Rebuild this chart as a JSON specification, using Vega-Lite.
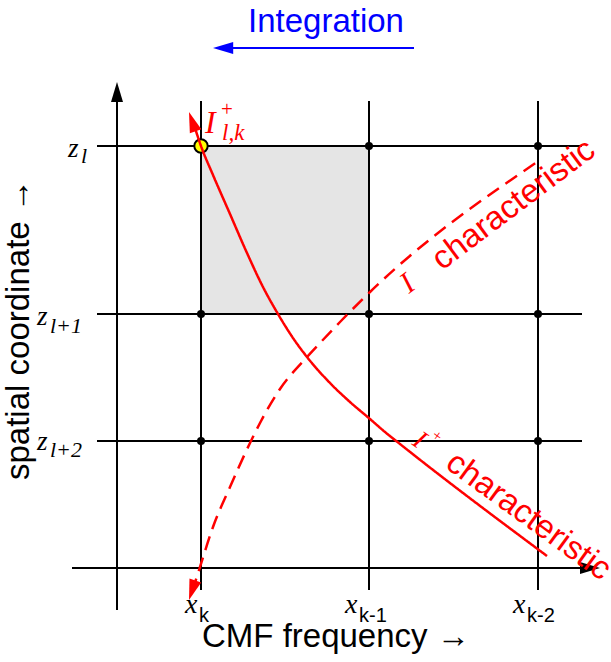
{
 "$schema": "https://vega.github.io/schema/vega-lite/v6.json",
 "width": 611, "height": 662, "autosize": {"type": "none"}, "padding": 0,
 "background": "white",
 "config": {"view": {"stroke": null}},
 "encoding": {
  "x": {"field": "x", "type": "quantitative", "scale": {"domain": [0, 611], "nice": false, "zero": false}, "axis": null},
  "y": {"field": "y", "type": "quantitative", "scale": {"domain": [0, 662], "nice": false, "zero": false, "reverse": true}, "axis": null}
 },
 "layer": [
  {
   "data": {"values": [{"x": 201, "x2": 369, "y": 146, "y2": 314}]},
   "mark": {"type": "rect", "fill": "#e5e5e5"},
   "encoding": {"x2": {"field": "x2"}, "y2": {"field": "y2"}}
  },
  {
   "data": {"values": [
    {"x": 201, "y": 101, "x2": 201, "y2": 590},
    {"x": 369, "y": 101, "x2": 369, "y2": 590},
    {"x": 538, "y": 101, "x2": 538, "y2": 590},
    {"x": 97, "y": 146, "x2": 582, "y2": 146},
    {"x": 97, "y": 314, "x2": 582, "y2": 314},
    {"x": 97, "y": 441, "x2": 582, "y2": 441},
    {"x": 72, "y": 568, "x2": 588, "y2": 568},
    {"x": 117, "y": 610, "x2": 117, "y2": 98}
   ]},
   "mark": {"type": "rule", "color": "black", "strokeWidth": 2},
   "encoding": {"x2": {"field": "x2"}, "y2": {"field": "y2"}}
  },
  {
   "data": {"values": [
    {"x": 369, "y": 146}, {"x": 538, "y": 146},
    {"x": 201, "y": 314}, {"x": 369, "y": 314}, {"x": 538, "y": 314},
    {"x": 201, "y": 441}, {"x": 369, "y": 441}, {"x": 538, "y": 441}
   ]},
   "mark": {"type": "point", "shape": "circle", "filled": true, "color": "black", "opacity": 1, "size": 64}
  },
  {
   "data": {"values": [{"x": 201, "y": 146}]},
   "mark": {"type": "point", "shape": "circle", "filled": true, "fill": "#ffff00", "stroke": "black", "strokeWidth": 2, "opacity": 1, "size": 180}
  },
  {
   "data": {"values": [
    {"curve": "plus", "x": 194, "y": 125}, {"curve": "plus", "x": 201, "y": 146},
    {"curve": "plus", "x": 213, "y": 175}, {"curve": "plus", "x": 230, "y": 214},
    {"curve": "plus", "x": 247, "y": 253}, {"curve": "plus", "x": 263, "y": 287},
    {"curve": "plus", "x": 278, "y": 314}, {"curve": "plus", "x": 293, "y": 338},
    {"curve": "plus", "x": 307, "y": 357}, {"curve": "plus", "x": 330, "y": 383},
    {"curve": "plus", "x": 350, "y": 402}, {"curve": "plus", "x": 370, "y": 419},
    {"curve": "plus", "x": 385, "y": 432}, {"curve": "plus", "x": 400, "y": 444},
    {"curve": "plus", "x": 547, "y": 556},
    {"curve": "minus", "x": 192, "y": 592}, {"curve": "minus", "x": 200, "y": 567},
    {"curve": "minus", "x": 213, "y": 527}, {"curve": "minus", "x": 230, "y": 487},
    {"curve": "minus", "x": 250, "y": 443}, {"curve": "minus", "x": 260, "y": 423},
    {"curve": "minus", "x": 280, "y": 389}, {"curve": "minus", "x": 307, "y": 357},
    {"curve": "minus", "x": 320, "y": 343}, {"curve": "minus", "x": 340, "y": 322},
    {"curve": "minus", "x": 370, "y": 292}, {"curve": "minus", "x": 540, "y": 160}
   ]},
   "mark": {"type": "line", "color": "red", "strokeWidth": 2.5, "interpolate": "monotone"},
   "encoding": {
    "detail": {"field": "curve"},
    "strokeDash": {"field": "curve", "type": "nominal", "scale": {"domain": ["plus", "minus"], "range": [[1, 0], [14, 8]]}, "legend": null}
   }
  },
  {
   "data": {"values": [
    {"kind": "axis", "x": 117, "y": 82, "dir": 0},
    {"kind": "axis", "x": 600, "y": 568, "dir": 90},
    {"kind": "integration", "x": 213, "y": 48, "dir": 270},
    {"kind": "plus", "x": 189, "y": 112, "dir": 341},
    {"kind": "minus", "x": 189, "y": 600, "dir": 198}
   ]},
   "mark": {"type": "point", "shape": "M0,0 L0.6,2 L-0.6,2 Z", "filled": true, "opacity": 1, "strokeWidth": 0},
   "encoding": {
    "angle": {"field": "dir", "type": "quantitative", "scale": null},
    "color": {"field": "kind", "type": "nominal", "scale": {"domain": ["axis", "integration", "plus", "minus"], "range": ["black", "blue", "red", "red"]}, "legend": null},
    "size": {"field": "kind", "type": "ordinal", "scale": {"domain": ["axis", "integration", "plus", "minus"], "range": [400, 420, 200, 200]}, "legend": null}
   }
  },
  {
   "data": {"values": [{"x": 225, "y": 48, "x2": 414, "y2": 48}]},
   "mark": {"type": "rule", "color": "blue", "strokeWidth": 2},
   "encoding": {"x2": {"field": "x2"}, "y2": {"field": "y2"}}
  },
  {
   "data": {"values": [{"x": 326, "y": 32, "label": "Integration"}]},
   "mark": {"type": "text", "font": "Liberation Sans", "fontSize": 33, "color": "blue", "align": "center", "baseline": "alphabetic"},
   "encoding": {"text": {"field": "label"}}
  },
  {
   "data": {"values": [{"x": 202, "y": 647, "label": "CMF frequency →"}]},
   "mark": {"type": "text", "font": "Liberation Sans", "fontSize": 33, "color": "black", "align": "left", "baseline": "alphabetic"},
   "encoding": {"text": {"field": "label"}}
  },
  {
   "data": {"values": [{"x": 29, "y": 480, "label": "spatial coordinate →"}]},
   "mark": {"type": "text", "font": "Liberation Sans", "fontSize": 33, "color": "black", "align": "left", "baseline": "alphabetic", "angle": 270},
   "encoding": {"text": {"field": "label"}}
  },
  {
   "data": {"values": [{"x": 442, "y": 271, "label": "characteristic"}]},
   "mark": {"type": "text", "font": "Liberation Sans", "fontSize": 33, "color": "red", "align": "left", "baseline": "alphabetic", "angle": 323},
   "encoding": {"text": {"field": "label"}}
  },
  {
   "data": {"values": [{"x": 444, "y": 467, "label": "characteristic"}]},
   "mark": {"type": "text", "font": "Liberation Sans", "fontSize": 33, "color": "red", "align": "left", "baseline": "alphabetic", "angle": 36},
   "encoding": {"text": {"field": "label"}}
  },
  {
   "data": {"values": [{"x": 68, "y": 157, "label": "z"}, {"x": 37, "y": 325, "label": "z"}, {"x": 37, "y": 450, "label": "z"}]},
   "mark": {"type": "text", "font": "Liberation Serif", "fontStyle": "italic", "fontSize": 27, "color": "black", "align": "left", "baseline": "alphabetic"},
   "encoding": {"text": {"field": "label"}}
  },
  {
   "data": {"values": [{"x": 81, "y": 163, "label": "l"}, {"x": 50, "y": 333, "label": "l+1"}, {"x": 50, "y": 457, "label": "l+2"}]},
   "mark": {"type": "text", "font": "Liberation Serif", "fontStyle": "italic", "fontSize": 22, "color": "black", "align": "left", "baseline": "alphabetic"},
   "encoding": {"text": {"field": "label"}}
  },
  {
   "data": {"values": [{"x": 185, "y": 613, "label": "x"}, {"x": 345, "y": 613, "label": "x"}, {"x": 513, "y": 613, "label": "x"}]},
   "mark": {"type": "text", "font": "Liberation Serif", "fontStyle": "italic", "fontSize": 28, "color": "black", "align": "left", "baseline": "alphabetic"},
   "encoding": {"text": {"field": "label"}}
  },
  {
   "data": {"values": [{"x": 199, "y": 622, "label": "k"}, {"x": 359, "y": 622, "label": "k-1"}, {"x": 527, "y": 622, "label": "k-2"}]},
   "mark": {"type": "text", "font": "Liberation Sans", "fontSize": 20, "color": "black", "align": "left", "baseline": "alphabetic"},
   "encoding": {"text": {"field": "label"}}
  },
  {
   "data": {"values": [{"x": 205, "y": 133, "label": "I"}]},
   "mark": {"type": "text", "font": "Liberation Serif", "fontStyle": "italic", "fontSize": 32, "color": "red", "align": "left", "baseline": "alphabetic"},
   "encoding": {"text": {"field": "label"}}
  },
  {
   "data": {"values": [{"x": 222, "y": 140, "label": "l,k"}]},
   "mark": {"type": "text", "font": "Liberation Serif", "fontStyle": "italic", "fontSize": 23, "color": "red", "align": "left", "baseline": "alphabetic"},
   "encoding": {"text": {"field": "label"}}
  },
  {
   "data": {"values": [{"x": 221, "y": 116, "label": "+"}]},
   "mark": {"type": "text", "font": "Liberation Serif", "fontSize": 21, "color": "red", "align": "left", "baseline": "alphabetic"},
   "encoding": {"text": {"field": "label"}}
  },
  {
   "data": {"values": [{"x": 409, "y": 294, "label": "I"}]},
   "mark": {"type": "text", "font": "Liberation Serif", "fontStyle": "italic", "fontSize": 30, "color": "red", "align": "left", "baseline": "alphabetic", "angle": 323},
   "encoding": {"text": {"field": "label"}}
  },
  {
   "data": {"values": [{"x": 411, "y": 444, "label": "I"}]},
   "mark": {"type": "text", "font": "Liberation Serif", "fontStyle": "italic", "fontSize": 27, "color": "red", "align": "left", "baseline": "alphabetic", "angle": 36},
   "encoding": {"text": {"field": "label"}}
  },
  {
   "data": {"values": [{"x": 437, "y": 436, "label": "+"}]},
   "mark": {"type": "text", "font": "Liberation Serif", "fontSize": 16, "color": "red", "align": "center", "baseline": "middle", "angle": 36},
   "encoding": {"text": {"field": "label"}}
  }
 ]
}
